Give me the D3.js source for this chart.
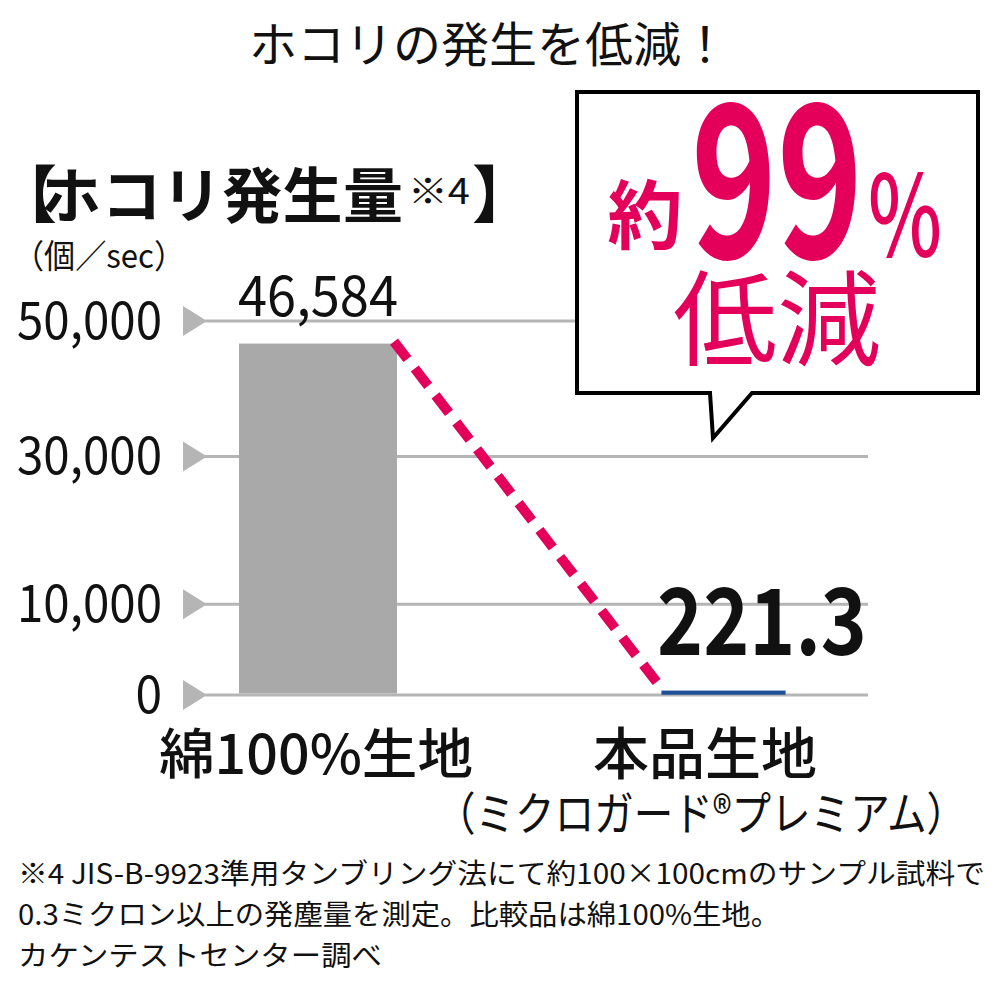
<!DOCTYPE html>
<html><head><meta charset="utf-8">
<script src="https://cdn.jsdelivr.net/npm/d3@7"></script>
<style>
html,body{margin:0;padding:0;background:#fff;}
svg text{font-family:"Noto Sans CJK JP","Noto Sans",sans-serif;}
</style></head>
<body>
<svg id="chart" width="1000" height="1000"></svg>
<script>
// ---- data ----
const categories = ["綿100%生地", "本品生地"];
const subLabels = ["", "（ミクロガード®プレミアム）"];
const values = [46584, 221.3];
const valueLabels = ["46,584", "221.3"];
const tickValues = [0, 10000, 30000, 50000];
const tickLabels = ["0", "10,000", "30,000", "50,000"];
const title = "ホコリの発生を低減！";
const yTitle = "ホコリ発生量";
const yTitleNote = "※4";
const yUnit = "（個／sec）";
const calloutLines = ["約", "99", "%", "低減"];
const footnotes = [
  "※4 JIS-B-9923準用タンブリング法にて約100×100cmのサンプル試料で",
  "0.3ミクロン以上の発塵量を測定。比較品は綿100%生地。",
  "カケンテストセンター調べ"
];

const pink = "#e4005a", grey = "#a9a9aa", gridC = "#b5b5b5", blue = "#1f4f97";
const svg = d3.select("#chart");

const y = d3.scalePow().exponent(0.88).domain([0, 50000]).range([695, 321]);
const x = d3.scaleBand().domain(categories).range([239, 802.5]).paddingInner(0.6104).paddingOuter(0);

// title
svg.append("text").attr("x", 489).attr("y", 62).attr("text-anchor", "middle")
  .attr("font-size", 48).attr("fill", "#111").text(title);

// y-axis title
svg.append("text").attr("x", -5).attr("y", 218).attr("font-size", 62).attr("font-weight", 700).attr("fill", "#111").text("【");
svg.append("text").attr("x", 41).attr("y", 218).attr("font-size", 60).attr("font-weight", 700).attr("fill", "#111")
  .attr("textLength", 362).attr("lengthAdjust", "spacing").text(yTitle);
svg.append("text").attr("x", 408).attr("y", 204).attr("font-size", 35).attr("fill", "#111")
  .attr("textLength", 62).attr("lengthAdjust", "spacingAndGlyphs").text(yTitleNote);
svg.append("text").attr("x", 472).attr("y", 218).attr("font-size", 62).attr("font-weight", 700).attr("fill", "#111").text("】");
svg.append("text").attr("x", 13).attr("y", 268).attr("font-size", 33).attr("fill", "#111")
  .attr("textLength", 172).attr("lengthAdjust", "spacingAndGlyphs").text(yUnit);

// grid + ticks
const g = svg.append("g");
g.selectAll("line.grid").data(tickValues).join("line").attr("class", "grid")
  .attr("x1", 205).attr("x2", 868).attr("y1", d => y(d)).attr("y2", d => y(d))
  .attr("stroke", gridC).attr("stroke-width", 3);
g.selectAll("path.tri").data(tickValues).join("path").attr("class", "tri")
  .attr("d", d => `M183,${y(d) - 15}L183,${y(d) + 15}L207,${y(d)}Z`).attr("fill", gridC);
const labelW = s => s.split("").reduce((a, c) => a + (c === "," ? 12 : 26.6), 0);
g.selectAll("text.tick").data(tickValues).join("text").attr("class", "tick")
  .attr("x", (d, i) => 162 - labelW(tickLabels[i])).attr("y", d => y(d) + 18)
  .attr("textLength", (d, i) => labelW(tickLabels[i])).attr("lengthAdjust", "spacingAndGlyphs")
  .attr("font-size", 52).attr("fill", "#111").text((d, i) => tickLabels[i]);

// bubble
svg.append("path").attr("d", "M577,92H978V393H752L713,438L710,393H577Z")
  .attr("fill", "#fff").attr("stroke", "#000").attr("stroke-width", 4).attr("stroke-linejoin", "miter");
svg.append("text").attr("x", 645).attr("y", 243).attr("text-anchor", "middle").attr("font-size", 75)
  .attr("font-weight", 700).attr("fill", pink).text(calloutLines[0]);
svg.append("text").attr("x", 691).attr("y", 258).attr("font-size", 212).attr("font-weight", 700)
  .attr("textLength", 172).attr("lengthAdjust", "spacingAndGlyphs").attr("fill", pink).text(calloutLines[1]);
svg.append("text").attr("x", 868).attr("y", 256).attr("font-size", 112).attr("font-weight", 500)
  .attr("textLength", 74).attr("lengthAdjust", "spacingAndGlyphs").attr("fill", pink).text(calloutLines[2]);
svg.append("text").attr("x", 777).attr("y", 358).attr("text-anchor", "middle").attr("font-size", 104)
  .attr("fill", pink).text(calloutLines[3]);

// bars
const barColors = [grey, blue];
const widths = [1, 0.77];
const bx = i => x(categories[i]) + x.bandwidth() * (1 - widths[i]) / 2;
svg.selectAll("rect.bar").data(values).join("rect").attr("class", "bar")
  .attr("x", (d, i) => bx(i))
  .attr("width", (d, i) => x.bandwidth() * widths[i])
  .attr("y", d => y(d)).attr("height", d => y(0) - y(d) - 1.5)
  .attr("fill", (d, i) => barColors[i])
  .attr("stroke", (d, i) => i === 1 ? blue : "none").attr("stroke-width", 2.5);

// dashed connector
svg.append("line")
  .attr("x1", bx(0) + x.bandwidth() - 3).attr("y1", y(values[0]) - 2)
  .attr("x2", bx(1)).attr("y2", y(values[1]) - 2)
  .attr("stroke", pink).attr("stroke-width", 10).attr("stroke-dasharray", "22,12");

// value labels
svg.append("text").attr("x", x(categories[0]) + x.bandwidth() / 2).attr("y", 316).attr("text-anchor", "middle")
  .attr("font-size", 56).attr("fill", "#111").attr("textLength", 160).attr("lengthAdjust", "spacingAndGlyphs")
  .text(valueLabels[0]);
svg.append("text").attr("x", 657).attr("y", 655).attr("font-size", 92).attr("font-weight", 700)
  .attr("textLength", 210).attr("lengthAdjust", "spacingAndGlyphs").attr("fill", "#111").text(valueLabels[1]);

// category labels
svg.append("text").attr("x", 159).attr("y", 774).attr("font-size", 54).attr("font-weight", 500)
  .attr("textLength", 314).attr("lengthAdjust", "spacingAndGlyphs").attr("fill", "#111").text(categories[0]);
svg.append("text").attr("x", 705).attr("y", 774).attr("text-anchor", "middle").attr("font-size", 56).attr("font-weight", 500)
  .attr("fill", "#111").text(categories[1]);
svg.append("text").attr("x", 436).attr("y", 830).attr("font-size", 46)
  .attr("textLength", 530).attr("lengthAdjust", "spacingAndGlyphs")
  .attr("fill", "#111").text(subLabels[1]);

// footnotes
const fnLen = [967, 762, 364];
svg.selectAll("text.fn").data(footnotes).join("text").attr("class", "fn")
  .attr("x", 18).attr("y", (d, i) => 884 + i * 41).attr("font-size", 28)
  .attr("textLength", (d, i) => fnLen[i]).attr("lengthAdjust", "spacingAndGlyphs")
  .attr("fill", "#111").text(d => d);
</script>
</body></html>
